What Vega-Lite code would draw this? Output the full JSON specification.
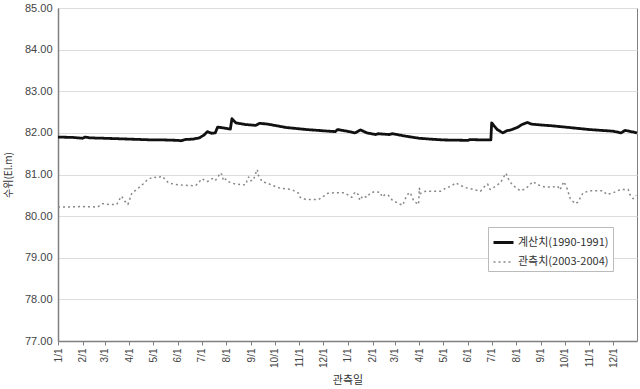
{
  "$schema": "https://vega.github.io/schema/vega-lite/v6.json",
  "width": 579,
  "height": 333,
  "autosize": "none",
  "padding": {"left": 58, "top": 8, "right": 3, "bottom": 48},
  "background": "white",
  "config": {
    "view": {"stroke": "#808080", "strokeWidth": 1},
    "font": "Liberation Sans"
  },
  "data": {
    "format": {"parse": {"date": "date:'%Y-%m-%d'"}},
    "values": [
      {"series": "계산치(1990-1991)", "date": "2001-01-01", "value": 81.90},
      {"series": "계산치(1990-1991)", "date": "2001-01-20", "value": 81.89},
      {"series": "계산치(1990-1991)", "date": "2001-02-01", "value": 81.87},
      {"series": "계산치(1990-1991)", "date": "2001-02-04", "value": 81.90},
      {"series": "계산치(1990-1991)", "date": "2001-02-10", "value": 81.88},
      {"series": "계산치(1990-1991)", "date": "2001-03-01", "value": 81.87},
      {"series": "계산치(1990-1991)", "date": "2001-04-01", "value": 81.85},
      {"series": "계산치(1990-1991)", "date": "2001-05-01", "value": 81.83},
      {"series": "계산치(1990-1991)", "date": "2001-05-15", "value": 81.83},
      {"series": "계산치(1990-1991)", "date": "2001-06-01", "value": 81.82},
      {"series": "계산치(1990-1991)", "date": "2001-06-05", "value": 81.81},
      {"series": "계산치(1990-1991)", "date": "2001-06-10", "value": 81.84},
      {"series": "계산치(1990-1991)", "date": "2001-06-20", "value": 81.85},
      {"series": "계산치(1990-1991)", "date": "2001-06-28", "value": 81.88},
      {"series": "계산치(1990-1991)", "date": "2001-07-04", "value": 81.95},
      {"series": "계산치(1990-1991)", "date": "2001-07-08", "value": 82.03},
      {"series": "계산치(1990-1991)", "date": "2001-07-13", "value": 81.99},
      {"series": "계산치(1990-1991)", "date": "2001-07-18", "value": 82.00},
      {"series": "계산치(1990-1991)", "date": "2001-07-21", "value": 82.14},
      {"series": "계산치(1990-1991)", "date": "2001-07-28", "value": 82.12},
      {"series": "계산치(1990-1991)", "date": "2001-08-06", "value": 82.09},
      {"series": "계산치(1990-1991)", "date": "2001-08-08", "value": 82.34},
      {"series": "계산치(1990-1991)", "date": "2001-08-13", "value": 82.24},
      {"series": "계산치(1990-1991)", "date": "2001-08-25", "value": 82.20},
      {"series": "계산치(1990-1991)", "date": "2001-09-07", "value": 82.18},
      {"series": "계산치(1990-1991)", "date": "2001-09-12", "value": 82.23},
      {"series": "계산치(1990-1991)", "date": "2001-09-22", "value": 82.21},
      {"series": "계산치(1990-1991)", "date": "2001-10-15", "value": 82.13},
      {"series": "계산치(1990-1991)", "date": "2001-11-10", "value": 82.08},
      {"series": "계산치(1990-1991)", "date": "2001-12-01", "value": 82.05},
      {"series": "계산치(1990-1991)", "date": "2001-12-16", "value": 82.03},
      {"series": "계산치(1990-1991)", "date": "2001-12-19", "value": 82.08},
      {"series": "계산치(1990-1991)", "date": "2001-12-31", "value": 82.04},
      {"series": "계산치(1990-1991)", "date": "2002-01-10", "value": 82.00},
      {"series": "계산치(1990-1991)", "date": "2002-01-17", "value": 82.07},
      {"series": "계산치(1990-1991)", "date": "2002-01-25", "value": 82.00},
      {"series": "계산치(1990-1991)", "date": "2002-02-05", "value": 81.96},
      {"series": "계산치(1990-1991)", "date": "2002-02-08", "value": 81.98},
      {"series": "계산치(1990-1991)", "date": "2002-02-22", "value": 81.96},
      {"series": "계산치(1990-1991)", "date": "2002-02-26", "value": 81.98},
      {"series": "계산치(1990-1991)", "date": "2002-03-15", "value": 81.92},
      {"series": "계산치(1990-1991)", "date": "2002-04-01", "value": 81.87},
      {"series": "계산치(1990-1991)", "date": "2002-04-15", "value": 81.85},
      {"series": "계산치(1990-1991)", "date": "2002-05-01", "value": 81.83},
      {"series": "계산치(1990-1991)", "date": "2002-06-01", "value": 81.82},
      {"series": "계산치(1990-1991)", "date": "2002-06-04", "value": 81.84},
      {"series": "계산치(1990-1991)", "date": "2002-06-20", "value": 81.83},
      {"series": "계산치(1990-1991)", "date": "2002-06-30", "value": 81.83},
      {"series": "계산치(1990-1991)", "date": "2002-07-01", "value": 82.24},
      {"series": "계산치(1990-1991)", "date": "2002-07-08", "value": 82.08},
      {"series": "계산치(1990-1991)", "date": "2002-07-15", "value": 82.00},
      {"series": "계산치(1990-1991)", "date": "2002-07-20", "value": 82.05},
      {"series": "계산치(1990-1991)", "date": "2002-07-25", "value": 82.07},
      {"series": "계산치(1990-1991)", "date": "2002-08-01", "value": 82.12},
      {"series": "계산치(1990-1991)", "date": "2002-08-05", "value": 82.16},
      {"series": "계산치(1990-1991)", "date": "2002-08-08", "value": 82.20},
      {"series": "계산치(1990-1991)", "date": "2002-08-15", "value": 82.25},
      {"series": "계산치(1990-1991)", "date": "2002-08-20", "value": 82.21},
      {"series": "계산치(1990-1991)", "date": "2002-09-01", "value": 82.19},
      {"series": "계산치(1990-1991)", "date": "2002-09-15", "value": 82.17},
      {"series": "계산치(1990-1991)", "date": "2002-10-01", "value": 82.14},
      {"series": "계산치(1990-1991)", "date": "2002-11-01", "value": 82.08},
      {"series": "계산치(1990-1991)", "date": "2002-12-01", "value": 82.04},
      {"series": "계산치(1990-1991)", "date": "2002-12-11", "value": 82.00},
      {"series": "계산치(1990-1991)", "date": "2002-12-16", "value": 82.06},
      {"series": "계산치(1990-1991)", "date": "2002-12-31", "value": 82.00},

      {"series": "관측치(2003-2004)", "date": "2001-01-01", "value": 80.22},
      {"series": "관측치(2003-2004)", "date": "2001-01-16", "value": 80.22},
      {"series": "관측치(2003-2004)", "date": "2001-01-31", "value": 80.23},
      {"series": "관측치(2003-2004)", "date": "2001-02-20", "value": 80.22},
      {"series": "관측치(2003-2004)", "date": "2001-02-26", "value": 80.30},
      {"series": "관측치(2003-2004)", "date": "2001-03-07", "value": 80.28},
      {"series": "관측치(2003-2004)", "date": "2001-03-16", "value": 80.28},
      {"series": "관측치(2003-2004)", "date": "2001-03-20", "value": 80.42},
      {"series": "관측치(2003-2004)", "date": "2001-03-22", "value": 80.48},
      {"series": "관측치(2003-2004)", "date": "2001-03-26", "value": 80.36},
      {"series": "관측치(2003-2004)", "date": "2001-03-30", "value": 80.28},
      {"series": "관측치(2003-2004)", "date": "2001-04-04", "value": 80.55},
      {"series": "관측치(2003-2004)", "date": "2001-04-12", "value": 80.67},
      {"series": "관측치(2003-2004)", "date": "2001-04-18", "value": 80.77},
      {"series": "관측치(2003-2004)", "date": "2001-04-24", "value": 80.88},
      {"series": "관측치(2003-2004)", "date": "2001-05-01", "value": 80.94},
      {"series": "관측치(2003-2004)", "date": "2001-05-06", "value": 80.92},
      {"series": "관측치(2003-2004)", "date": "2001-05-12", "value": 80.96},
      {"series": "관측치(2003-2004)", "date": "2001-05-20", "value": 80.80},
      {"series": "관측치(2003-2004)", "date": "2001-05-29", "value": 80.76},
      {"series": "관측치(2003-2004)", "date": "2001-06-10", "value": 80.74},
      {"series": "관측치(2003-2004)", "date": "2001-06-23", "value": 80.73},
      {"series": "관측치(2003-2004)", "date": "2001-06-27", "value": 80.80},
      {"series": "관측치(2003-2004)", "date": "2001-07-01", "value": 80.90},
      {"series": "관측치(2003-2004)", "date": "2001-07-08", "value": 80.83},
      {"series": "관측치(2003-2004)", "date": "2001-07-14", "value": 80.90},
      {"series": "관측치(2003-2004)", "date": "2001-07-18", "value": 80.85},
      {"series": "관측치(2003-2004)", "date": "2001-07-22", "value": 80.96},
      {"series": "관측치(2003-2004)", "date": "2001-07-24", "value": 81.04},
      {"series": "관측치(2003-2004)", "date": "2001-07-27", "value": 80.99},
      {"series": "관측치(2003-2004)", "date": "2001-07-28", "value": 80.85},
      {"series": "관측치(2003-2004)", "date": "2001-07-31", "value": 80.89},
      {"series": "관측치(2003-2004)", "date": "2001-08-03", "value": 80.83},
      {"series": "관측치(2003-2004)", "date": "2001-08-12", "value": 80.77},
      {"series": "관측치(2003-2004)", "date": "2001-08-25", "value": 80.75},
      {"series": "관측치(2003-2004)", "date": "2001-08-27", "value": 80.85},
      {"series": "관측치(2003-2004)", "date": "2001-08-29", "value": 80.94},
      {"series": "관측치(2003-2004)", "date": "2001-08-31", "value": 80.85},
      {"series": "관측치(2003-2004)", "date": "2001-09-04", "value": 80.86},
      {"series": "관측치(2003-2004)", "date": "2001-09-06", "value": 80.99},
      {"series": "관측치(2003-2004)", "date": "2001-09-09", "value": 81.12},
      {"series": "관측치(2003-2004)", "date": "2001-09-10", "value": 80.99},
      {"series": "관측치(2003-2004)", "date": "2001-09-15", "value": 80.83},
      {"series": "관측치(2003-2004)", "date": "2001-09-22", "value": 80.79},
      {"series": "관측치(2003-2004)", "date": "2001-09-29", "value": 80.73},
      {"series": "관측치(2003-2004)", "date": "2001-10-08", "value": 80.67},
      {"series": "관측치(2003-2004)", "date": "2001-10-18", "value": 80.65},
      {"series": "관측치(2003-2004)", "date": "2001-10-24", "value": 80.62},
      {"series": "관측치(2003-2004)", "date": "2001-10-31", "value": 80.55},
      {"series": "관측치(2003-2004)", "date": "2001-11-02", "value": 80.45},
      {"series": "관측치(2003-2004)", "date": "2001-11-09", "value": 80.40},
      {"series": "관측치(2003-2004)", "date": "2001-11-25", "value": 80.40},
      {"series": "관측치(2003-2004)", "date": "2001-11-30", "value": 80.46},
      {"series": "관측치(2003-2004)", "date": "2001-12-07", "value": 80.55},
      {"series": "관측치(2003-2004)", "date": "2001-12-14", "value": 80.56},
      {"series": "관측치(2003-2004)", "date": "2001-12-27", "value": 80.56},
      {"series": "관측치(2003-2004)", "date": "2002-01-01", "value": 80.51},
      {"series": "관측치(2003-2004)", "date": "2002-01-06", "value": 80.45},
      {"series": "관측치(2003-2004)", "date": "2002-01-10", "value": 80.58},
      {"series": "관측치(2003-2004)", "date": "2002-01-14", "value": 80.52},
      {"series": "관측치(2003-2004)", "date": "2002-01-16", "value": 80.38},
      {"series": "관측치(2003-2004)", "date": "2002-01-20", "value": 80.49},
      {"series": "관측치(2003-2004)", "date": "2002-01-25", "value": 80.45},
      {"series": "관측치(2003-2004)", "date": "2002-01-29", "value": 80.55},
      {"series": "관측치(2003-2004)", "date": "2002-02-04", "value": 80.59},
      {"series": "관측치(2003-2004)", "date": "2002-02-11", "value": 80.57},
      {"series": "관측치(2003-2004)", "date": "2002-02-13", "value": 80.46},
      {"series": "관측치(2003-2004)", "date": "2002-02-17", "value": 80.52},
      {"series": "관측치(2003-2004)", "date": "2002-02-21", "value": 80.50},
      {"series": "관측치(2003-2004)", "date": "2002-02-26", "value": 80.38},
      {"series": "관측치(2003-2004)", "date": "2002-03-05", "value": 80.31},
      {"series": "관측치(2003-2004)", "date": "2002-03-11", "value": 80.26},
      {"series": "관측치(2003-2004)", "date": "2002-03-15", "value": 80.45},
      {"series": "관측치(2003-2004)", "date": "2002-03-19", "value": 80.57},
      {"series": "관측치(2003-2004)", "date": "2002-03-21", "value": 80.54},
      {"series": "관측치(2003-2004)", "date": "2002-03-25", "value": 80.36},
      {"series": "관측치(2003-2004)", "date": "2002-03-31", "value": 80.28},
      {"series": "관측치(2003-2004)", "date": "2002-04-01", "value": 80.67},
      {"series": "관측치(2003-2004)", "date": "2002-04-02", "value": 80.54},
      {"series": "관측치(2003-2004)", "date": "2002-04-09", "value": 80.60},
      {"series": "관측치(2003-2004)", "date": "2002-04-28", "value": 80.60},
      {"series": "관측치(2003-2004)", "date": "2002-05-04", "value": 80.67},
      {"series": "관측치(2003-2004)", "date": "2002-05-11", "value": 80.72},
      {"series": "관측치(2003-2004)", "date": "2002-05-17", "value": 80.80},
      {"series": "관측치(2003-2004)", "date": "2002-05-21", "value": 80.75},
      {"series": "관측치(2003-2004)", "date": "2002-05-30", "value": 80.68},
      {"series": "관측치(2003-2004)", "date": "2002-06-06", "value": 80.65},
      {"series": "관측치(2003-2004)", "date": "2002-06-17", "value": 80.60},
      {"series": "관측치(2003-2004)", "date": "2002-06-22", "value": 80.71},
      {"series": "관측치(2003-2004)", "date": "2002-06-26", "value": 80.77},
      {"series": "관측치(2003-2004)", "date": "2002-06-29", "value": 80.64},
      {"series": "관측치(2003-2004)", "date": "2002-07-06", "value": 80.72},
      {"series": "관측치(2003-2004)", "date": "2002-07-12", "value": 80.80},
      {"series": "관측치(2003-2004)", "date": "2002-07-19", "value": 81.03},
      {"series": "관측치(2003-2004)", "date": "2002-07-21", "value": 80.93},
      {"series": "관측치(2003-2004)", "date": "2002-07-25", "value": 80.80},
      {"series": "관측치(2003-2004)", "date": "2002-07-31", "value": 80.69},
      {"series": "관측치(2003-2004)", "date": "2002-08-06", "value": 80.61},
      {"series": "관측치(2003-2004)", "date": "2002-08-13", "value": 80.66},
      {"series": "관측치(2003-2004)", "date": "2002-08-22", "value": 80.83},
      {"series": "관측치(2003-2004)", "date": "2002-08-28", "value": 80.75},
      {"series": "관측치(2003-2004)", "date": "2002-09-06", "value": 80.70},
      {"series": "관측치(2003-2004)", "date": "2002-09-16", "value": 80.70},
      {"series": "관측치(2003-2004)", "date": "2002-09-22", "value": 80.72},
      {"series": "관측치(2003-2004)", "date": "2002-09-25", "value": 80.63},
      {"series": "관측치(2003-2004)", "date": "2002-09-30", "value": 80.83},
      {"series": "관측치(2003-2004)", "date": "2002-10-04", "value": 80.66},
      {"series": "관측치(2003-2004)", "date": "2002-10-08", "value": 80.42},
      {"series": "관측치(2003-2004)", "date": "2002-10-14", "value": 80.30},
      {"series": "관측치(2003-2004)", "date": "2002-10-18", "value": 80.34},
      {"series": "관측치(2003-2004)", "date": "2002-10-24", "value": 80.56},
      {"series": "관측치(2003-2004)", "date": "2002-11-02", "value": 80.61},
      {"series": "관측치(2003-2004)", "date": "2002-11-18", "value": 80.61},
      {"series": "관측치(2003-2004)", "date": "2002-11-23", "value": 80.52},
      {"series": "관측치(2003-2004)", "date": "2002-12-01", "value": 80.56},
      {"series": "관측치(2003-2004)", "date": "2002-12-10", "value": 80.64},
      {"series": "관측치(2003-2004)", "date": "2002-12-20", "value": 80.64},
      {"series": "관측치(2003-2004)", "date": "2002-12-22", "value": 80.52},
      {"series": "관측치(2003-2004)", "date": "2002-12-26", "value": 80.42},
      {"series": "관측치(2003-2004)", "date": "2002-12-30", "value": 80.50}
    ]
  },
  "mark": {"type": "line", "interpolate": "linear", "strokeJoin": "round"},
  "encoding": {
    "x": {
      "field": "date",
      "type": "temporal",
      "scale": {"domain": [{"year": 2001, "month": 1, "date": 1}, {"year": 2002, "month": 12, "date": 31}], "nice": false},
      "axis": {
        "title": "관측일",
        "titleFont": "Noto Sans CJK KR",
        "titleFontSize": 11,
        "titleFontWeight": "normal",
        "titleColor": "#333333",
        "titleBaseline": "top",
        "titleY": 33,
        "format": "%-m/%-d",
        "values": [
          {"year": 2001, "month": 1, "date": 1}, {"year": 2001, "month": 2, "date": 1}, {"year": 2001, "month": 3, "date": 1},
          {"year": 2001, "month": 4, "date": 1}, {"year": 2001, "month": 5, "date": 1}, {"year": 2001, "month": 6, "date": 1},
          {"year": 2001, "month": 7, "date": 1}, {"year": 2001, "month": 8, "date": 1}, {"year": 2001, "month": 9, "date": 1},
          {"year": 2001, "month": 10, "date": 1}, {"year": 2001, "month": 11, "date": 1}, {"year": 2001, "month": 12, "date": 1},
          {"year": 2002, "month": 1, "date": 1}, {"year": 2002, "month": 2, "date": 1}, {"year": 2002, "month": 3, "date": 1},
          {"year": 2002, "month": 4, "date": 1}, {"year": 2002, "month": 5, "date": 1}, {"year": 2002, "month": 6, "date": 1},
          {"year": 2002, "month": 7, "date": 1}, {"year": 2002, "month": 8, "date": 1}, {"year": 2002, "month": 9, "date": 1},
          {"year": 2002, "month": 10, "date": 1}, {"year": 2002, "month": 11, "date": 1}, {"year": 2002, "month": 12, "date": 1}
        ],
        "labelAngle": -90,
        "labelFontSize": 10,
        "labelColor": "#444444",
        "labelPadding": 3,
        "labelOverlap": false,
        "labelFlush": false,
        "grid": false,
        "tickSize": 4,
        "tickColor": "#808080",
        "domainColor": "#808080",
        "domainWidth": 1.5
      }
    },
    "y": {
      "field": "value",
      "type": "quantitative",
      "scale": {"domain": [77, 85], "nice": false, "zero": false},
      "axis": {
        "title": "수위(El.m)",
        "titleFont": "Noto Sans CJK KR",
        "titleFontSize": 10,
        "titleFontWeight": "normal",
        "titleColor": "#333333",
        "titleX": -45,
        "format": ".2f",
        "values": [77, 78, 79, 80, 81, 82, 83, 84, 85],
        "labelFontSize": 11,
        "labelColor": "#444444",
        "labelPadding": 6,
        "ticks": false,
        "gridColor": "#dddddd",
        "gridWidth": 1,
        "domainColor": "#808080",
        "domainWidth": 1.5
      }
    },
    "color": {
      "field": "series",
      "type": "nominal",
      "scale": {"domain": ["계산치(1990-1991)", "관측치(2003-2004)"], "range": ["#111111", "#888888"]},
      "legend": {
        "title": null,
        "orient": "none",
        "legendX": 430,
        "legendY": 219,
        "direction": "vertical",
        "strokeColor": "#bbbbbb",
        "fillColor": "white",
        "padding": 4,
        "symbolType": "stroke",
        "symbolSize": 400,
        "symbolStrokeWidth": 2,
        "labelFont": "Noto Sans CJK KR",
        "labelFontSize": 11,
        "labelColor": "#333333",
        "rowPadding": 2,
        "labelOffset": 3
      }
    },
    "strokeDash": {
      "field": "series",
      "type": "nominal",
      "scale": {"domain": ["계산치(1990-1991)", "관측치(2003-2004)"], "range": [[1, 0], [2, 3]]}
    },
    "strokeWidth": {
      "field": "series",
      "type": "nominal",
      "scale": {"domain": ["계산치(1990-1991)", "관측치(2003-2004)"], "range": [2.8, 1.5]}
    }
  }
}
